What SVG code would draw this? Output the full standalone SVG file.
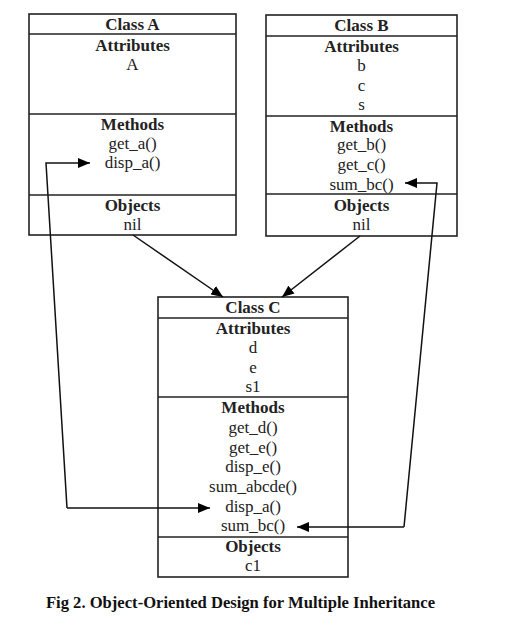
<svg xmlns="http://www.w3.org/2000/svg" width="515" height="632" viewBox="0 0 515 632">
<defs>
<marker id="ah" viewBox="0 0 12 10" refX="12" refY="5" markerWidth="12" markerHeight="10" markerUnits="userSpaceOnUse" orient="auto">
<path d="M0,0 L12,5 L0,10 Z" fill="#000"/>
</marker>
</defs>
<style>
.box{fill:#fff;stroke:#222;stroke-width:1.6}
.sep{stroke:#222;stroke-width:1.6}
text{font-family:"Liberation Serif","Times New Roman",serif;font-size:17px;fill:#222;text-anchor:middle}
.h{font-weight:bold}
.con{fill:none;stroke:#111;stroke-width:1.5}
.cap{font-weight:bold;font-size:16.6px;fill:#111}
</style>
<rect width="515" height="632" fill="#fff"/>
<g id="classA">
<rect class="box" x="29" y="14" width="207" height="221"/>
<line class="sep" x1="29" y1="34" x2="236" y2="34"/>
<line class="sep" x1="29" y1="114" x2="236" y2="114"/>
<line class="sep" x1="29" y1="195" x2="236" y2="195"/>
<text class="h" x="132.5" y="30">Class A</text>
<text class="h" x="132.5" y="51">Attributes</text>
<text x="132.5" y="70">A</text>
<text class="h" x="132.5" y="130">Methods</text>
<text x="132.5" y="149">get_a()</text>
<text x="132.5" y="168">disp_a()</text>
<text class="h" x="132.5" y="211">Objects</text>
<text x="132.5" y="230">nil</text>
</g>
<g id="classB">
<rect class="box" x="266" y="15" width="191" height="221"/>
<line class="sep" x1="266" y1="36" x2="457" y2="36"/>
<line class="sep" x1="266" y1="116" x2="457" y2="116"/>
<line class="sep" x1="266" y1="194" x2="457" y2="194"/>
<text class="h" x="361.5" y="31">Class B</text>
<text class="h" x="361.5" y="52">Attributes</text>
<text x="361.5" y="71">b</text>
<text x="361.5" y="91">c</text>
<text x="361.5" y="110">s</text>
<text class="h" x="361.5" y="132">Methods</text>
<text x="361.5" y="150">get_b()</text>
<text x="361.5" y="170">get_c()</text>
<text x="361.5" y="190">sum_bc()</text>
<text class="h" x="361.5" y="211">Objects</text>
<text x="361.5" y="230">nil</text>
</g>
<g id="classC">
<rect class="box" x="158" y="297" width="190" height="280"/>
<line class="sep" x1="158" y1="318" x2="348" y2="318"/>
<line class="sep" x1="158" y1="397" x2="348" y2="397"/>
<line class="sep" x1="158" y1="537" x2="348" y2="537"/>
<text class="h" x="253" y="313">Class C</text>
<text class="h" x="253" y="334">Attributes</text>
<text x="253" y="353">d</text>
<text x="253" y="373">e</text>
<text x="253" y="392">s1</text>
<text class="h" x="253" y="413">Methods</text>
<text x="253" y="433">get_d()</text>
<text x="253" y="453">get_e()</text>
<text x="253" y="472">disp_e()</text>
<text x="253" y="492">sum_abcde()</text>
<text x="253" y="512">disp_a()</text>
<text x="253" y="531">sum_bc()</text>
<text class="h" x="253" y="552">Objects</text>
<text x="253" y="571">c1</text>
</g>
<g id="connectors">
<line class="con" x1="133" y1="235" x2="223" y2="297" marker-end="url(#ah)"/>
<line class="con" x1="360" y1="236" x2="282" y2="297" marker-end="url(#ah)"/>
<polyline class="con" points="67,508 46,163 90,163" marker-end="url(#ah)"/>
<path class="con" d="M67,508 L210,508" marker-end="url(#ah)"/>
<polyline class="con" points="404,527 437,183 405,183" marker-end="url(#ah)"/>
<path class="con" d="M404,527 L297,527" marker-end="url(#ah)"/>
</g>
<text class="cap" x="240.5" y="608">Fig 2. Object-Oriented Design for Multiple Inheritance</text>
</svg>
